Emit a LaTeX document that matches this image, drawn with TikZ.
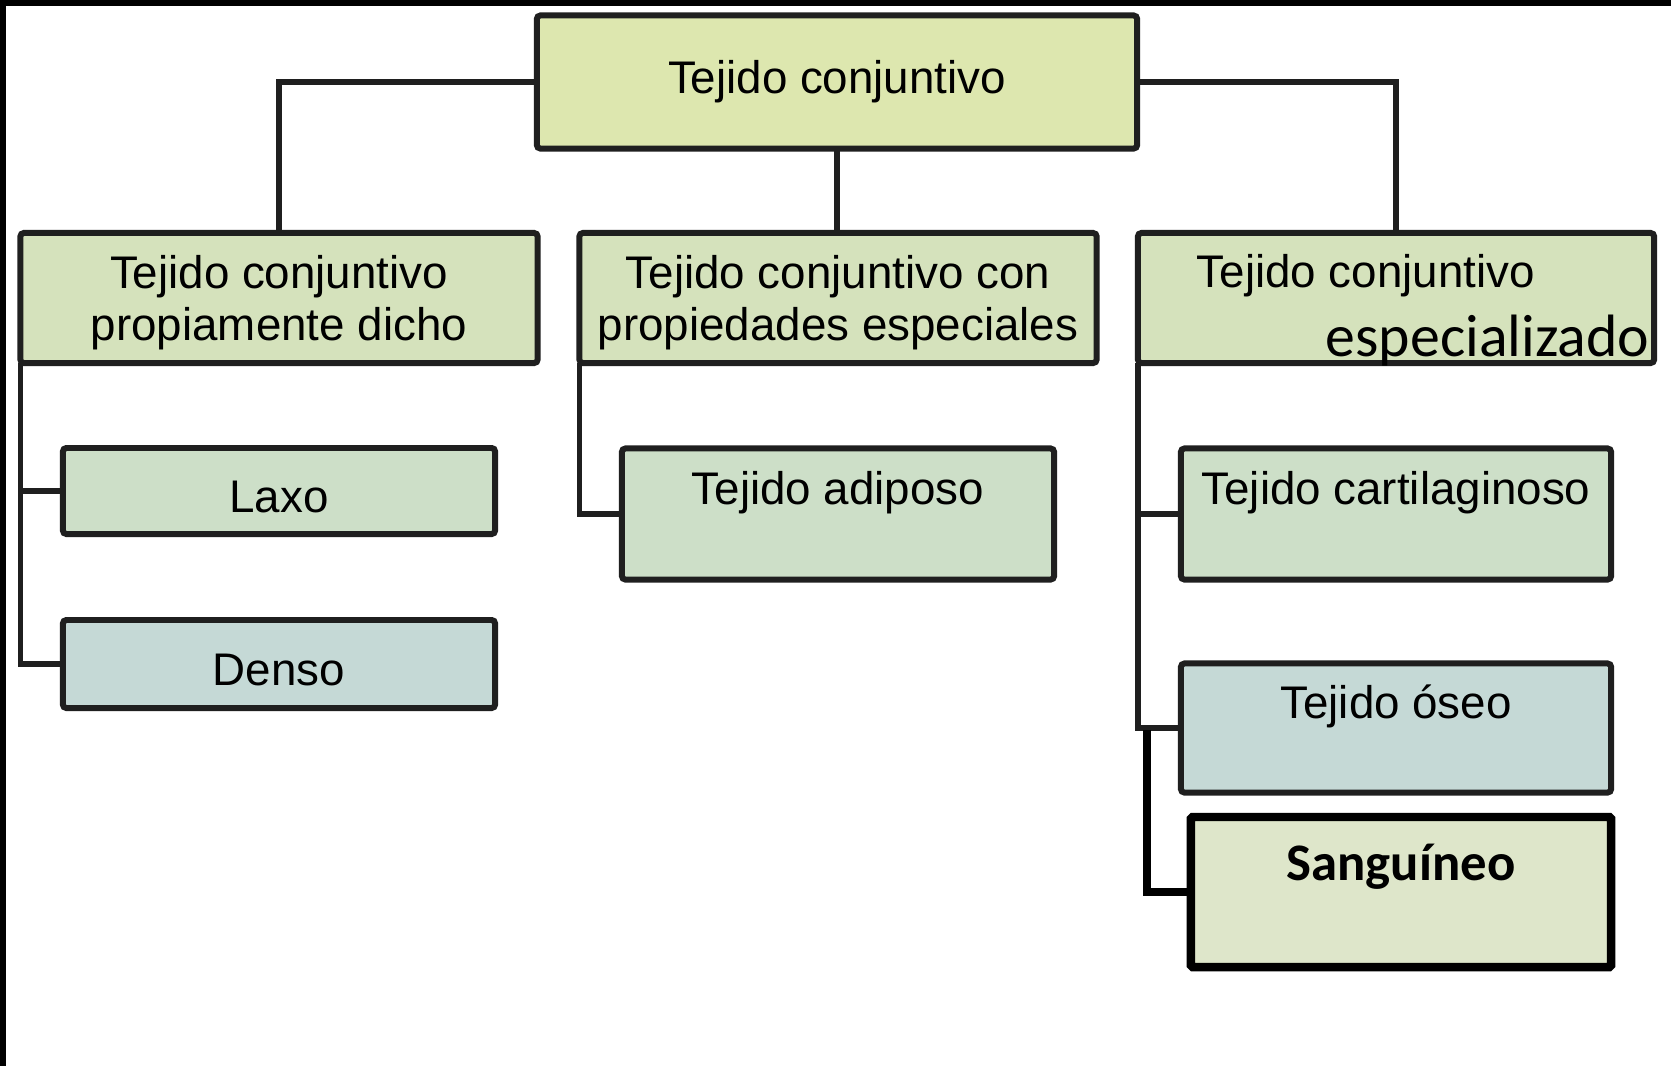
\documentclass[tikz,border=0pt]{standalone}
\usepackage{fontspec}
\setmainfont{Liberation Sans}
\newfontfamily\calibri{Carlito}
\usepackage{tikz}

\definecolor{topfill}{HTML}{DDE7AF}
\definecolor{midfill}{HTML}{D5E2BC}
\definecolor{greenfill}{HTML}{CDDFC8}
\definecolor{bluefill}{HTML}{C5D9D6}
\definecolor{bloodfill}{HTML}{DEE6CA}

\begin{document}
\begin{tikzpicture}[x=0.01cm, y=-0.01cm,
    box/.style={rectangle, draw=black!88, line width=1.7pt, rounded corners=1pt,
        inner sep=0pt, outer sep=0pt, align=center, font=\fontsize{13}{15}\selectfont},
    upper/.style={text depth=15pt},
    lower/.style={text height=12.5pt},
    txt/.style={inner sep=0pt, font=\fontsize{13}{15}\selectfont},
    conn/.style={draw=black!88, line width=1.6pt},
    thickconn/.style={draw=black, line width=2.2pt}
]
    \useasboundingbox (0,0) rectangle (1671,1066);
    \fill[white] (0,0) rectangle (1671,1066);
    \fill[black] (0,0) rectangle (1671,6);
    \fill[black] (0,0) rectangle (6,1066);

    \node[box, fill=topfill, minimum width=6.00cm, minimum height=1.33cm] (tc) at (837,82) {Tejido conjuntivo};

    \node[box, fill=midfill, minimum width=5.17cm, minimum height=1.30cm, text depth=0pt] (pd) at (279,298) {Tejido conjuntivo\\propiamente dicho};
    \node[box, fill=midfill, minimum width=5.17cm, minimum height=1.30cm, text depth=0pt] (pe) at (838,298) {Tejido conjuntivo con\\propiedades especiales};
    \node[box, fill=midfill, minimum width=5.16cm, minimum height=1.30cm] (es) at (1396,298) {};
    \node[txt, anchor=west] (es1) at (1196,276) {Tejido conjuntivo};
    \node[inner sep=0pt, anchor=east, font=\calibri\fontsize{17}{20}\selectfont] (es2) at (1650,341) {especializado};

    \node[box, lower, fill=greenfill, minimum width=4.32cm, minimum height=0.86cm] (lx) at (279,491) {Laxo};
    \node[box, lower, fill=bluefill, minimum width=4.32cm, minimum height=0.88cm] (dn) at (279,664) {Denso};
    \node[box, upper, fill=greenfill, minimum width=4.32cm, minimum height=1.31cm] (ad) at (838,514) {Tejido adiposo};
    \node[box, upper, fill=greenfill, minimum width=4.30cm, minimum height=1.31cm] (ca) at (1396,514) {Tejido cartilaginoso};
    \node[box, upper, fill=bluefill, minimum width=4.30cm, minimum height=1.29cm] (os) at (1396,728) {Tejido óseo};
    \node[box, draw=black, line width=2.4pt, rounded corners=0.5pt, fill=bloodfill,
        minimum width=4.20cm, minimum height=1.50cm, text depth=17pt,
        font=\calibri\bfseries\fontsize{15}{17}\selectfont] (sg) at (1401,892) {Sanguíneo};

    \coordinate (sj) at (1147,730);

    \draw[conn] (tc.west) -| (pd.north);
    \draw[conn] (tc.east) -| (es.north);
    \draw[conn] (tc.south) -- (tc.south |- pe.north);
    \draw[conn] (pd.south west) |- (dn.west);
    \draw[conn] (pd.south west |- lx.west) -- (lx.west);
    \draw[conn] (pe.south west) |- (ad.west);
    \draw[conn] (es.south west) |- (os.west);
    \draw[conn] (es.south west |- ca.west) -- (ca.west);
    \draw[thickconn] (sj) |- (sg.west);
\end{tikzpicture}
\end{document}
